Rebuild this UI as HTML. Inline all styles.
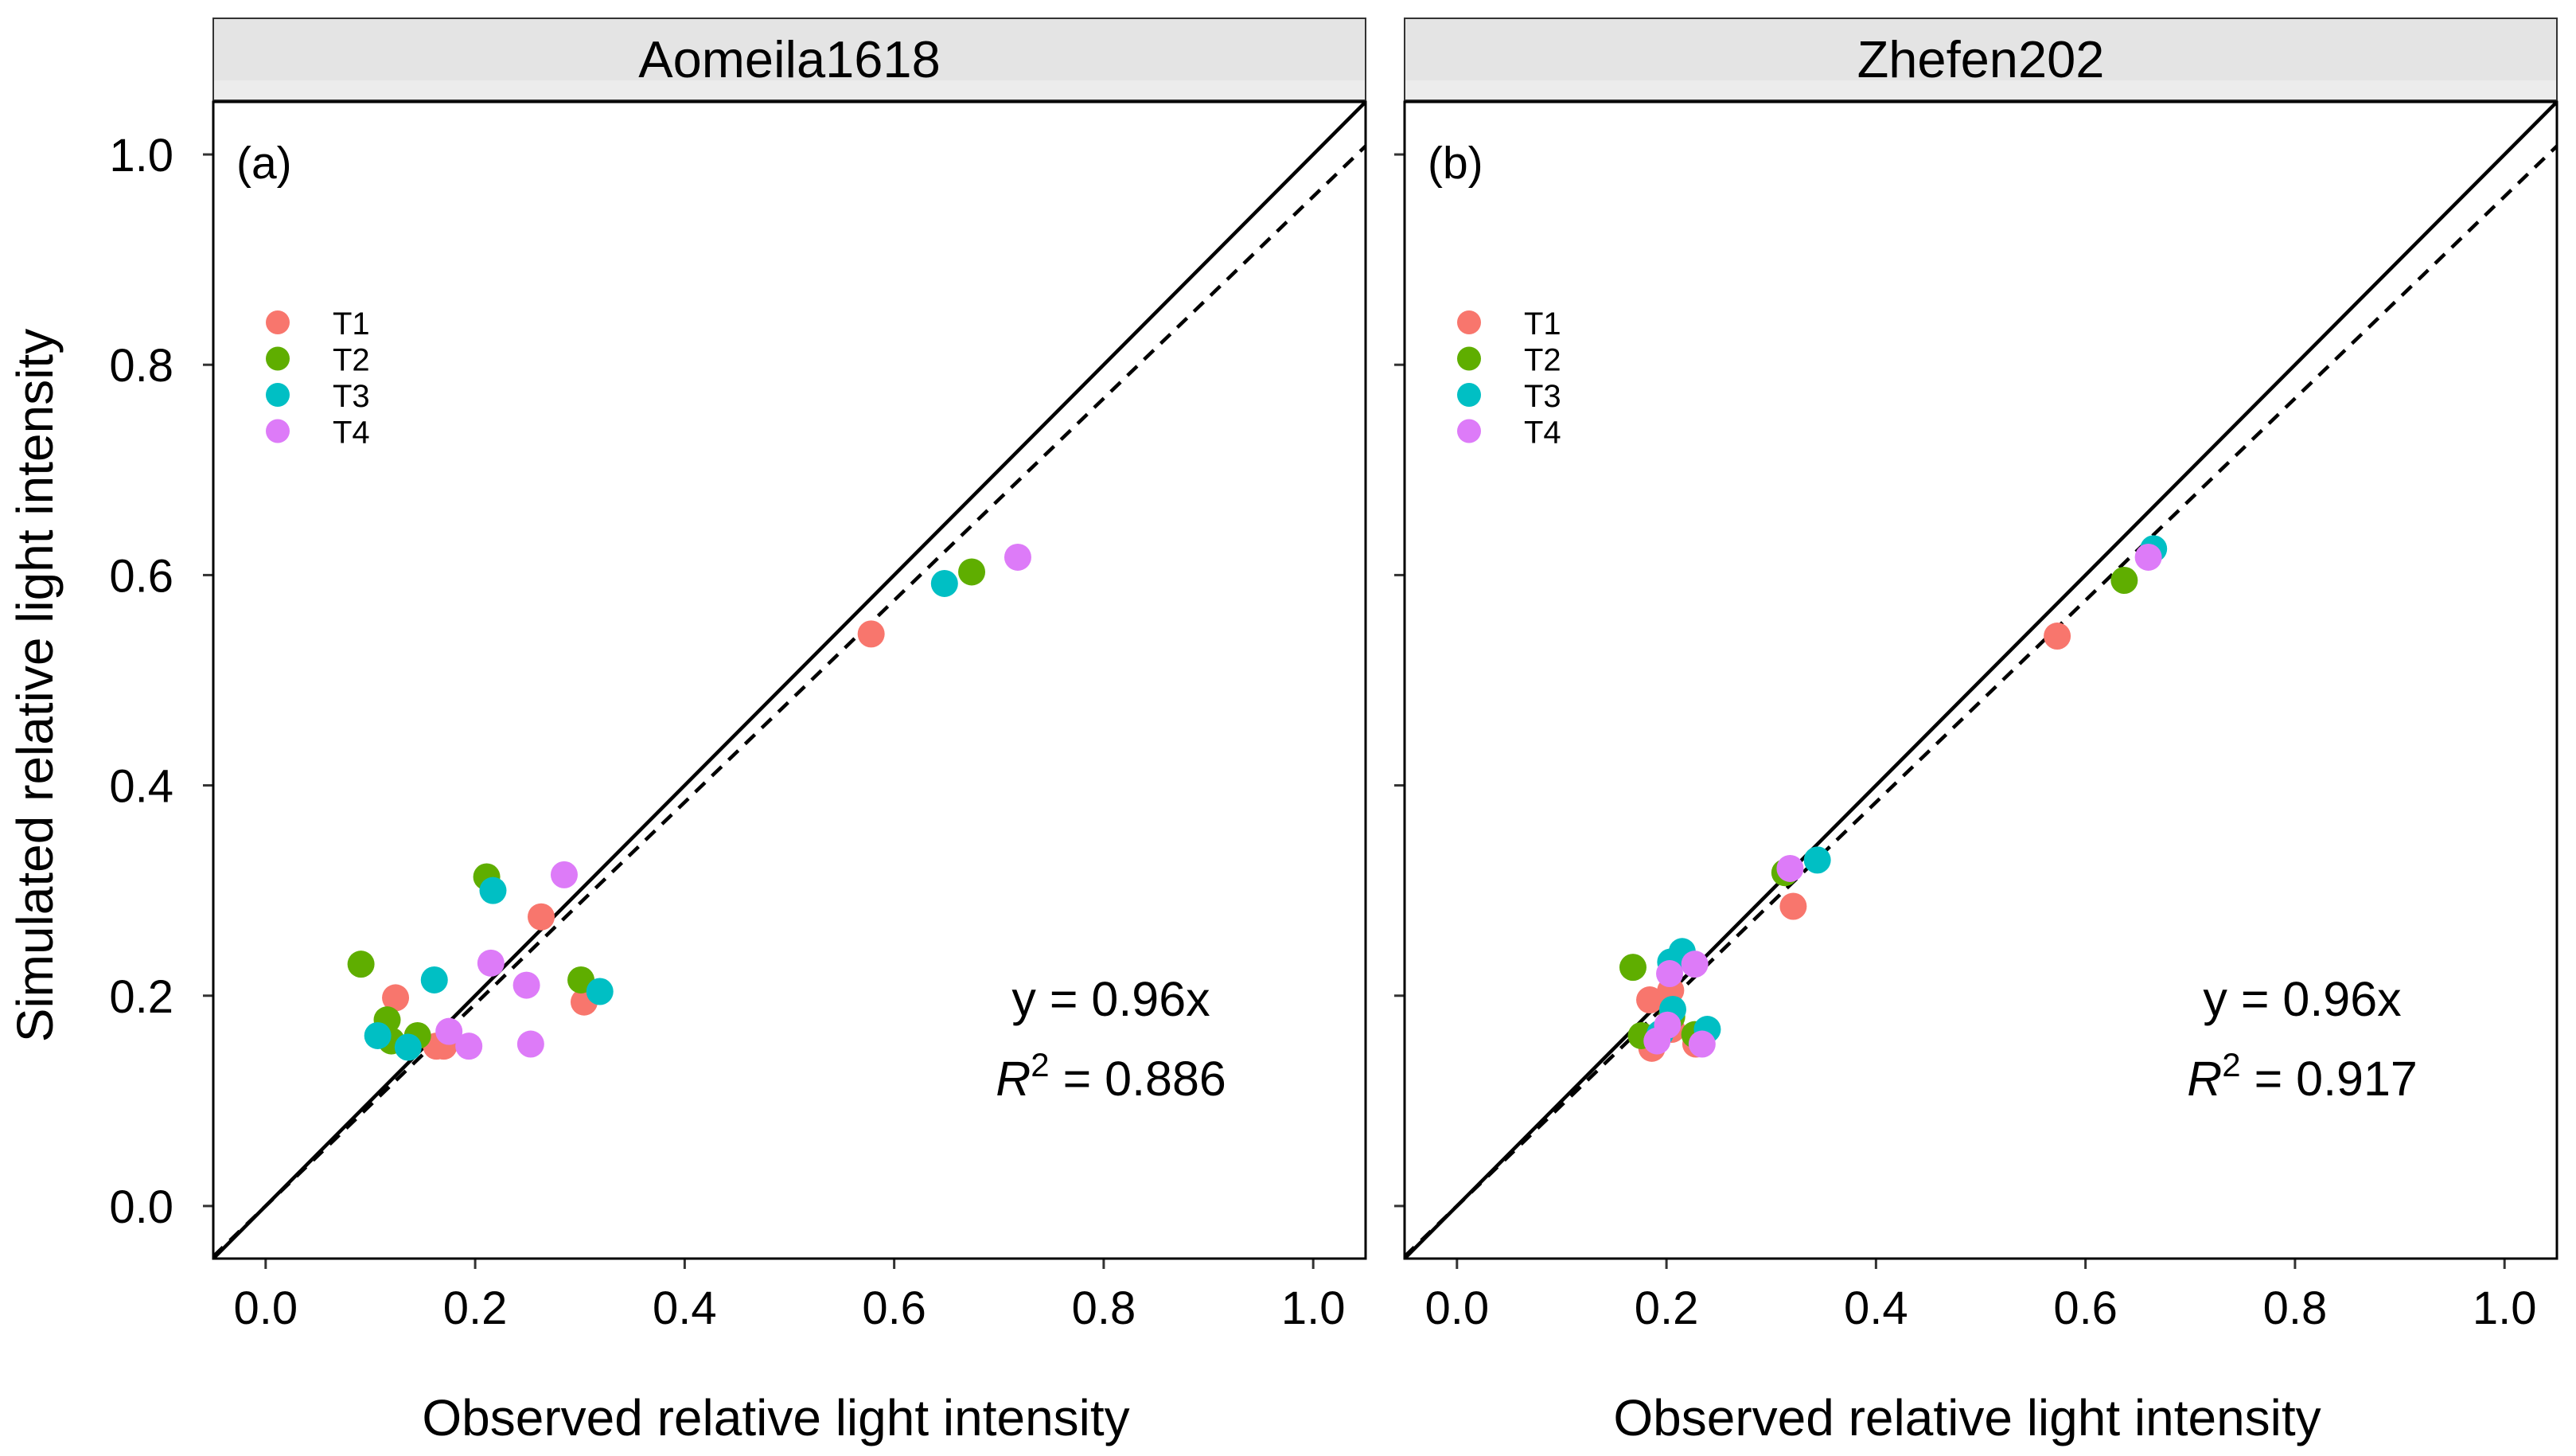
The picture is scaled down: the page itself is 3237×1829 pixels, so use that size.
<!DOCTYPE html>
<html><head><meta charset="utf-8"><style>
html,body{margin:0;padding:0;background:#fff;}
svg{display:block;font-family:"Liberation Sans",Arial,sans-serif;}
</style></head><body>
<svg id="chart" width="3237" height="1829" viewBox="0 0 3237 1829" xmlns="http://www.w3.org/2000/svg">
<text x="0" y="0" transform="translate(66,861) rotate(-90)" text-anchor="middle" font-size="64">Simulated relative light intensity</text>
</svg>
<script>
const panelTitles = ["Aomeila1618", "Zhefen202"];
const panelTags = ["(a)", "(b)"];
const slopes = [0.96, 0.96];
const r2Labels = ["0.886", "0.917"];
const groups = ["T1", "T2", "T3", "T4"];
const groupColors = ["#F8766D", "#5FAE00", "#00BFC4", "#DD7BF8"];
const ticks = [0, 0.2, 0.4, 0.6, 0.8, 1.0];
const tickLabels = ["0.0", "0.2", "0.4", "0.6", "0.8", "1.0"];
// panel a observed / simulated per group
const aObsT1 = [0.124, 0.263, 0.304, 0.170, 0.163, 0.578];
const aSimT1 = [0.198, 0.275, 0.194, 0.152, 0.152, 0.544];
const aObsT2 = [0.091, 0.211, 0.301, 0.116, 0.120, 0.145, 0.674];
const aSimT2 = [0.230, 0.313, 0.215, 0.177, 0.157, 0.162, 0.603];
const aObsT3 = [0.217, 0.161, 0.319, 0.107, 0.136, 0.648];
const aSimT3 = [0.300, 0.215, 0.204, 0.162, 0.151, 0.592];
const aObsT4 = [0.285, 0.215, 0.249, 0.175, 0.194, 0.253, 0.718];
const aSimT4 = [0.315, 0.231, 0.210, 0.166, 0.152, 0.154, 0.617];
// panel b
const bObsT1 = [0.321, 0.184, 0.204, 0.205, 0.186, 0.228, 0.573];
const bSimT1 = [0.285, 0.196, 0.205, 0.168, 0.150, 0.154, 0.542];
const bObsT2 = [0.168, 0.313, 0.205, 0.176, 0.227, 0.637];
const bSimT2 = [0.227, 0.317, 0.180, 0.162, 0.163, 0.595];
const bObsT3 = [0.344, 0.215, 0.204, 0.206, 0.239, 0.194, 0.665];
const bSimT3 = [0.329, 0.242, 0.232, 0.187, 0.168, 0.164, 0.625];
const bObsT4 = [0.318, 0.227, 0.203, 0.201, 0.191, 0.234, 0.660];
const bSimT4 = [0.321, 0.230, 0.221, 0.172, 0.157, 0.154, 0.617];

const panelObs = [[aObsT1, aObsT2, aObsT3, aObsT4], [bObsT1, bObsT2, bObsT3, bObsT4]];
const panelSim = [[aSimT1, aSimT2, aSimT3, aSimT4], [bSimT1, bSimT2, bSimT3, bSimT4]];

const NS = "http://www.w3.org/2000/svg";
const svgRoot = document.getElementById("chart");
function mk(tag, attrs, parent) {
  const e = document.createElementNS(NS, tag);
  for (const k in attrs) e.setAttribute(k, attrs[k]);
  (parent || svgRoot).appendChild(e);
  return e;
}
const panelLefts = [268, 1765];
const plotW = 1448, plotTop = 128, plotH = 1453;
const dmin = -0.05, dmax = 1.05;

for (let p = 0; p < 2; p++) {
  const L = panelLefts[p];
  const xs = v => L + (v - dmin) / (dmax - dmin) * plotW;
  const ys = v => plotTop + plotH - (v - dmin) / (dmax - dmin) * plotH;
  const g = mk("g", {});
  
  
  const strip = mk("rect", {x: L, y: 23, width: plotW, height: 103, fill: "#e4e4e4", stroke: "#333", "stroke-width": 2}, g);
  
  
  mk("rect", {x: L + 1, y: 101, width: plotW - 2, height: 24, fill: "#ececec"}, g);
  const st = mk("text", {x: L + plotW / 2, y: 97, "text-anchor": "middle", "font-size": 65}, g);
  st.textContent = panelTitles[p];
  
  
  const cp = mk("clipPath", {id: "clip" + p}, g);
  mk("rect", {x: L, y: plotTop, width: plotW, height: plotH}, cp);
  for (let i = 0; i < ticks.length; i++) {
    const tx = xs(ticks[i]);
    mk("line", {x1: tx, x2: tx, y1: plotTop + plotH, y2: plotTop + plotH + 13, stroke: "#333", "stroke-width": 3}, g);
    const xl = mk("text", {x: tx, y: plotTop + plotH + 82, "text-anchor": "middle", "font-size": 58}, g);
    xl.textContent = tickLabels[i];
    
    
    const ty = ys(ticks[i]);
    mk("line", {x1: L - 13, x2: L, y1: ty, y2: ty, stroke: "#333", "stroke-width": 3}, g);
    if (p === 0) {
      const yl = mk("text", {x: L - 50, y: ty + 21, "text-anchor": "end", "font-size": 58}, g);
      yl.textContent = tickLabels[i];
      
      
    }
  }
  const cg = mk("g", {"clip-path": "url(#clip" + p + ")"}, g);
  const l1 = mk("line", {x1: xs(dmin), y1: ys(dmin), x2: xs(dmax), y2: ys(dmax), stroke: "#000", "stroke-width": 4.5}, cg);
  
  
  const l2 = mk("line", {x1: xs(dmin), y1: ys(dmin * slopes[p]), x2: xs(dmax), y2: ys(dmax * slopes[p]), stroke: "#000", "stroke-width": 4.5, "stroke-dasharray": "17 12"}, cg);
  
  
  for (let gi = 0; gi < groups.length; gi++) {
    const ox = panelObs[p][gi], sy = panelSim[p][gi];
    for (let k = 0; k < ox.length; k++) {
      const c = mk("circle", {cx: xs(ox[k]), cy: ys(sy[k]), r: 17, fill: groupColors[gi]}, cg);
      
      
    }
  }
  const fr = mk("rect", {x: L, y: plotTop, width: plotW, height: plotH, fill: "none", stroke: "#000", "stroke-width": 3}, g);
  
  
  const tg = mk("text", {x: L + 29, y: 224, "font-size": 57}, g);
  tg.textContent = panelTags[p];
  
  
  for (let gi = 0; gi < groups.length; gi++) {
    const ly = 405 + gi * 45.5;
    const ld = mk("circle", {cx: L + 81, cy: ly, r: 15, fill: groupColors[gi]}, g);
    
    
    const lt = mk("text", {x: L + 150, y: ly + 15, "font-size": 40}, g);
    lt.textContent = groups[gi];
    
    
  }
  const cx = L + 1128;
  const eq = mk("text", {x: cx, y: 1276, "text-anchor": "middle", "font-size": 61}, g);
  eq.textContent = "y = " + slopes[p] + "x";
  
  
  const r2 = mk("text", {x: cx, y: 1376, "text-anchor": "middle", "font-size": 61}, g);
  
  
  const t1 = mk("tspan", {"font-style": "italic"}, r2); t1.textContent = "R";
  const t2 = mk("tspan", {dy: -24, "font-size": 42}, r2); t2.textContent = "2";
  const t3 = mk("tspan", {dy: 24}, r2); t3.textContent = " = " + r2Labels[p];
  const xt = mk("text", {x: L + plotW / 2 - 17, y: 1803, "text-anchor": "middle", "font-size": 64}, g);
  xt.textContent = "Observed relative light intensity";
  
  
}
</script>
</body></html>
